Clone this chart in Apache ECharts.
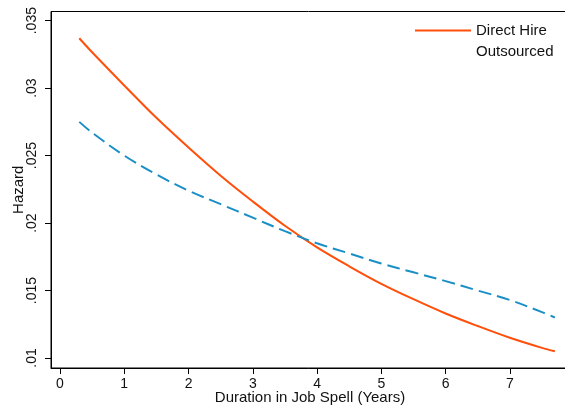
<!DOCTYPE html>
<html>
<head>
<meta charset="utf-8">
<script src="https://cdn.jsdelivr.net/npm/echarts@6/dist/echarts.min.js"></script>
<style>
  html, body { margin: 0; padding: 0; background: #fff; }
  #chart { width: 565px; height: 410px; }
</style>
</head>
<body>
<div id="chart"></div>
<script>
// Duration in job spell (years) at which the hazard is evaluated
var years = [0.3, 0.5, 1.0, 1.5, 2.0, 2.5, 3.0, 3.5, 4.0, 4.5, 5.0, 5.5, 6.0, 6.5, 7.0, 7.5, 7.7];

// Estimated hazard by contract type
var directHire = [0.0337, 0.03266, 0.0302, 0.0278, 0.0256, 0.02351, 0.0216, 0.0198, 0.0182, 0.0168, 0.0155, 0.01436, 0.0133, 0.01237, 0.0115, 0.01075, 0.0105];
var outsourced = [0.0275, 0.0267, 0.0250, 0.0236, 0.0224, 0.0214, 0.0204, 0.0194, 0.0185, 0.01775, 0.0170, 0.01635, 0.0157, 0.0150, 0.0143, 0.0134, 0.0130];

// Tick positions
var xTicks = [0, 1, 2, 3, 4, 5, 6, 7];
var yTicks = [0.01, 0.015, 0.02, 0.025, 0.03, 0.035];

var seriesNames = ['Direct Hire', 'Outsourced'];

function pairs(xs, ys) {
  return xs.map(function (x, i) { return [x, ys[i]]; });
}

function fmtHazard(v) {
  // Stata-style: drop the leading zero, trim trailing zeros
  var s = (+v).toFixed(3).replace(/0+$/, '');
  return s.replace(/^0/, '');
}

var FONT = 'Liberation Sans, Arial, Helvetica, sans-serif';
var chart = echarts.init(document.getElementById('chart'), null, { renderer: 'canvas' });

chart.setOption({
  animation: false,
  backgroundColor: '#ffffff',
  grid: {
    left: 51, top: 11.5, right: -4, bottom: 42,
    outerBoundsMode: 'none',
    show: true, borderColor: '#000', borderWidth: 1, backgroundColor: 'transparent'
  },
  legend: {
    orient: 'vertical',
    left: 409, top: 18,
    itemWidth: 56, itemHeight: 14, itemGap: 6,
    itemStyle: { opacity: 0 },
    textStyle: { fontFamily: FONT, fontSize: 15, color: '#111' },
    data: [
      { name: seriesNames[0] },
      { name: seriesNames[1], lineStyle: { opacity: 0 } }
    ],
    selectedMode: false
  },
  xAxis: {
    type: 'value',
    min: -0.14, max: 7.92,
    name: 'Duration in Job Spell (Years)',
    nameLocation: 'middle', nameGap: 22, nameMoveOverlap: false,
    nameTextStyle: { fontFamily: FONT, fontSize: 15, color: '#111' },
    splitLine: { show: false },
    axisLine: { show: true, onZero: false, lineStyle: { color: '#000', width: 1 } },
    axisTick: { show: true, length: 6, customValues: xTicks, lineStyle: { color: '#000' } },
    axisLabel: {
      customValues: xTicks, margin: 9,
      fontFamily: FONT, fontSize: 14, color: '#111',
      formatter: function (v) { return String(v); }
    }
  },
  yAxis: {
    type: 'value',
    min: 0.00926, max: 0.03568,
    name: 'Hazard',
    nameLocation: 'middle', nameGap: 25, nameRotate: 90, nameMoveOverlap: false,
    nameTextStyle: { fontFamily: FONT, fontSize: 15, color: '#111' },
    splitLine: { show: false },
    axisLine: { show: true, onZero: false, lineStyle: { color: '#000', width: 1 } },
    axisTick: { show: true, length: 6, customValues: yTicks, lineStyle: { color: '#000' } },
    axisLabel: {
      customValues: yTicks, rotate: 90, margin: 12,
      fontFamily: FONT, fontSize: 14, color: '#111',
      formatter: fmtHazard
    }
  },
  series: [
    {
      name: seriesNames[0], type: 'line', smooth: 0.35, symbol: 'none',
      data: pairs(years, directHire),
      lineStyle: { color: '#ff4f0a', width: 2 },
      itemStyle: { color: '#ff4f0a' }
    },
    {
      name: seriesNames[1], type: 'line', smooth: 0.35, symbol: 'none',
      data: pairs(years, outsourced),
      lineStyle: { color: '#1a8fc6', width: 2, type: [13, 6] },
      itemStyle: { color: '#1a8fc6' }
    }
  ]
});
</script>
</body>
</html>
